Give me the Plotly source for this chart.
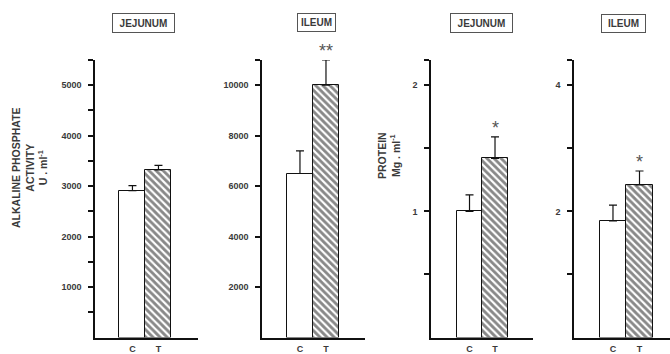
import plotly.graph_objects as go

W, H = 670, 354

groups = ["C", "T"]
alp_jej = [2910, 3320]
alp_jej_err = [100, 90]
alp_ile = [6500, 10000]
alp_ile_err = [900, 1000]
prot_jej = [1.0, 1.42]
prot_jej_err = [0.13, 0.17]
prot_ile = [1.85, 2.42]
prot_ile_err = [0.25, 0.22]

panel_titles = ["JEJUNUM", "ILEUM", "JEJUNUM", "ILEUM"]
stars = ["", "**", "*", "*"]

FONT = "Liberation Sans"
TXT = "#3a3a3a"
LINE = "#111111"

def px(x):
    return x / W

def py(y):
    return 1 - y / H

panels = [
    dict(x0=95, x1=198, xr=[-1.44, 2.52], yr=[0, 5500], major=[1000, 2000, 3000, 4000, 5000],
         minor=[500, 1500, 2500, 3500, 4500, 5500], data=alp_jej, err=alp_jej_err),
    dict(x0=262, x1=365, xr=[-1.46, 2.50], yr=[0, 11000], major=[2000, 4000, 6000, 8000, 10000],
         minor=[11000], data=alp_ile, err=alp_ile_err),
    dict(x0=431, x1=533, xr=[-1.51, 2.49], yr=[0, 2.2], major=[1, 2],
         minor=[0.5, 1.5, 2.2], data=prot_jej, err=prot_jej_err),
    dict(x0=574, x1=670, xr=[-1.47, 2.15], yr=[0, 4.4], major=[2, 4],
         minor=[1, 3, 4.4], data=prot_ile, err=prot_ile_err),
]

fig = go.Figure()
layout = dict(
    width=W, height=H, margin=dict(l=0, r=0, t=0, b=0, autoexpand=False),
    paper_bgcolor="white", plot_bgcolor="white", showlegend=False,
    bargap=0, font=dict(family=FONT, color=TXT),
)
annotations = []

for i, p in enumerate(panels):
    n = "" if i == 0 else str(i + 1)
    fig.add_trace(go.Bar(
        x=[0, 1], y=p["data"], width=1,
        marker=dict(color="white", line=dict(color=LINE, width=1),
                    pattern=dict(shape=["", "\\"], fgcolor=LINE, bgcolor="white",
                                 size=5, solidity=0.58)),
        error_y=dict(type="data", symmetric=False, array=p["err"], arrayminus=[0, 0],
                     color=LINE, thickness=1.2, width=4),
        xaxis="x" + n, yaxis="y" + n,
    ))
    layout["xaxis" + n] = dict(
        domain=[px(p["x0"]), px(p["x1"])], range=p["xr"], anchor="y" + n,
        tickvals=[0, 1], ticktext=groups, ticks="", showline=True, linecolor=LINE,
        linewidth=1.5, showgrid=False, zeroline=False, ticklabelstandoff=2,
        automargin=False,
        tickfont=dict(size=9, family=FONT, color=TXT, weight="bold"),
    )
    layout["yaxis" + n] = dict(
        domain=[py(337.5), py(60)], range=p["yr"], anchor="x" + n,
        tickvals=p["major"], ticktext=[f"{v:g}" if v < 100 else str(int(v)) for v in p["major"]],
        ticks="outside", ticklen=5, tickwidth=1.5, tickcolor=LINE,
        minor=dict(tickvals=p["minor"], ticks="outside", ticklen=5, tickwidth=1.5, tickcolor=LINE),
        showline=True, linecolor=LINE, linewidth=1.5, showgrid=False, zeroline=False,
        ticklabelstandoff=5, automargin=False,
        tickfont=dict(size=9, family=FONT, color=TXT, weight="bold"),
    )
    if stars[i]:
        annotations.append(dict(
            x=1, y=p["data"][1] + p["err"][1], xref="x" + n, yref="y" + n,
            text=stars[i], showarrow=False, yanchor="bottom", yshift=-3,
            font=dict(size=18, family=FONT, color="#555555"),
        ))

titles_geom = [(143.5, 23, 57, 14), (316.5, 22.5, 33, 13), (481.5, 22.5, 57, 14), (623.5, 23, 39, 13)]
for t, (cx, cy, w, h) in zip(panel_titles, titles_geom):
    annotations.append(dict(
        x=px(cx), y=py(cy), xref="paper", yref="paper", text=t, showarrow=False,
        xanchor="center", yanchor="middle", width=w, height=h, borderpad=2,
        bordercolor="#555555", borderwidth=1, bgcolor="white",
        font=dict(size=10, family=FONT, color=TXT, weight="bold"),
    ))

annotations.append(dict(
    x=px(29), y=py(168), xref="paper", yref="paper",
    text="ALKALINE PHOSPHATE<br>ACTIVITY<br>U . ml<sup>-1</sup>", textangle=-90,
    showarrow=False, xanchor="center", yanchor="middle",
    font=dict(size=10.5, family=FONT, color=TXT, weight="bold"),
))
annotations.append(dict(
    x=px(389), y=py(156), xref="paper", yref="paper",
    text="PROTEIN<br>Mg . ml<sup>-1</sup>", textangle=-90,
    showarrow=False, xanchor="center", yanchor="middle",
    font=dict(size=10.5, family=FONT, color=TXT, weight="bold"),
))

layout["annotations"] = annotations
fig.update_layout(**layout)
fig.write_html("out.html")
